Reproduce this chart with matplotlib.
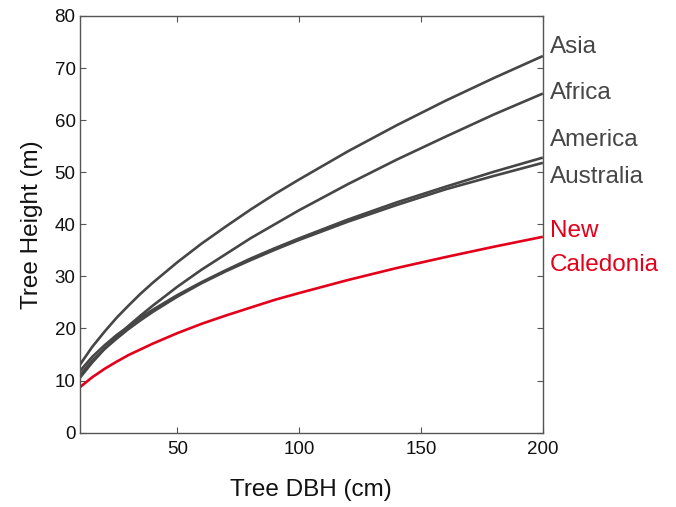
import numpy as np
import matplotlib.pyplot as plt

plt.rcParams['font.family'] = ['Liberation Sans', 'DejaVu Sans']

# values (tree DBH in cm -> height in m)
dbh = [10, 15, 20, 25, 30, 35, 40, 50, 60, 70, 80, 90, 100, 120, 140, 160, 180, 200]
asia = [13.0, 16.4, 19.3, 22.0, 24.4, 26.7, 28.8, 32.7, 36.3, 39.6, 42.8, 45.8, 48.6, 54.0, 59.0, 63.7, 68.1, 72.3]
africa = [10.5, 13.4, 16.0, 18.3, 20.5, 22.5, 24.4, 28.0, 31.3, 34.3, 37.3, 40.0, 42.7, 47.7, 52.4, 56.8, 61.1, 65.1]
america = [11.8, 14.5, 16.7, 18.7, 20.4, 22.1, 23.6, 26.4, 28.9, 31.2, 33.4, 35.4, 37.3, 40.9, 44.2, 47.2, 50.1, 52.8]
australia = [11.0, 13.8, 16.0, 18.0, 19.9, 21.6, 23.2, 26.1, 28.7, 31.0, 33.1, 35.1, 37.0, 40.5, 43.7, 46.7, 49.3, 51.8]
new_caledonia = [8.7, 10.6, 12.2, 13.6, 14.9, 16.0, 17.1, 19.1, 20.9, 22.5, 24.0, 25.5, 26.8, 29.3, 31.6, 33.7, 35.7, 37.6]

grey = '#464646'
red = '#e3001b'

fig = plt.figure(figsize=(6.76, 5.07), dpi=100)
ax = fig.add_axes([0.118, 0.1466, 0.685, 0.822])

for ys in (asia, africa, america, australia):
    ax.plot(dbh, ys, color=grey, lw=1.9, solid_capstyle='butt')
ax.plot(dbh, new_caledonia, color=red, lw=1.9, solid_capstyle='butt')

ax.set_xlim(10, 200)
ax.set_ylim(0, 80)
ax.set_xticks([50, 100, 150, 200])
ax.set_yticks(np.arange(0, 81, 10))
ax.tick_params(direction='in', length=4, width=0.8, color='#555555',
               top=True, right=True, labelsize=13.5, labelcolor='#111111')
ax.tick_params(axis='x', pad=6)
ax.tick_params(axis='y', pad=3)
for s in ax.spines.values():
    s.set_color('#555555')
    s.set_linewidth(1.0)

ax.set_xlabel('Tree DBH (cm)', fontsize=17.5, labelpad=15, color='#111111')
ax.set_ylabel('Tree Height (m)', fontsize=17.5, labelpad=8, color='#111111')

labels = [('Asia', 74.0, grey), ('Africa', 65.2, grey), ('America', 56.1, grey),
          ('Australia', 49.1, grey), ('New', 38.8, red), ('Caledonia', 32.2, red)]
for txt, yv, c in labels:
    ax.text(203.0, yv, txt, color=c, fontsize=17.5, va='center', ha='left', clip_on=False)

fig.savefig('out.png', dpi=100)
